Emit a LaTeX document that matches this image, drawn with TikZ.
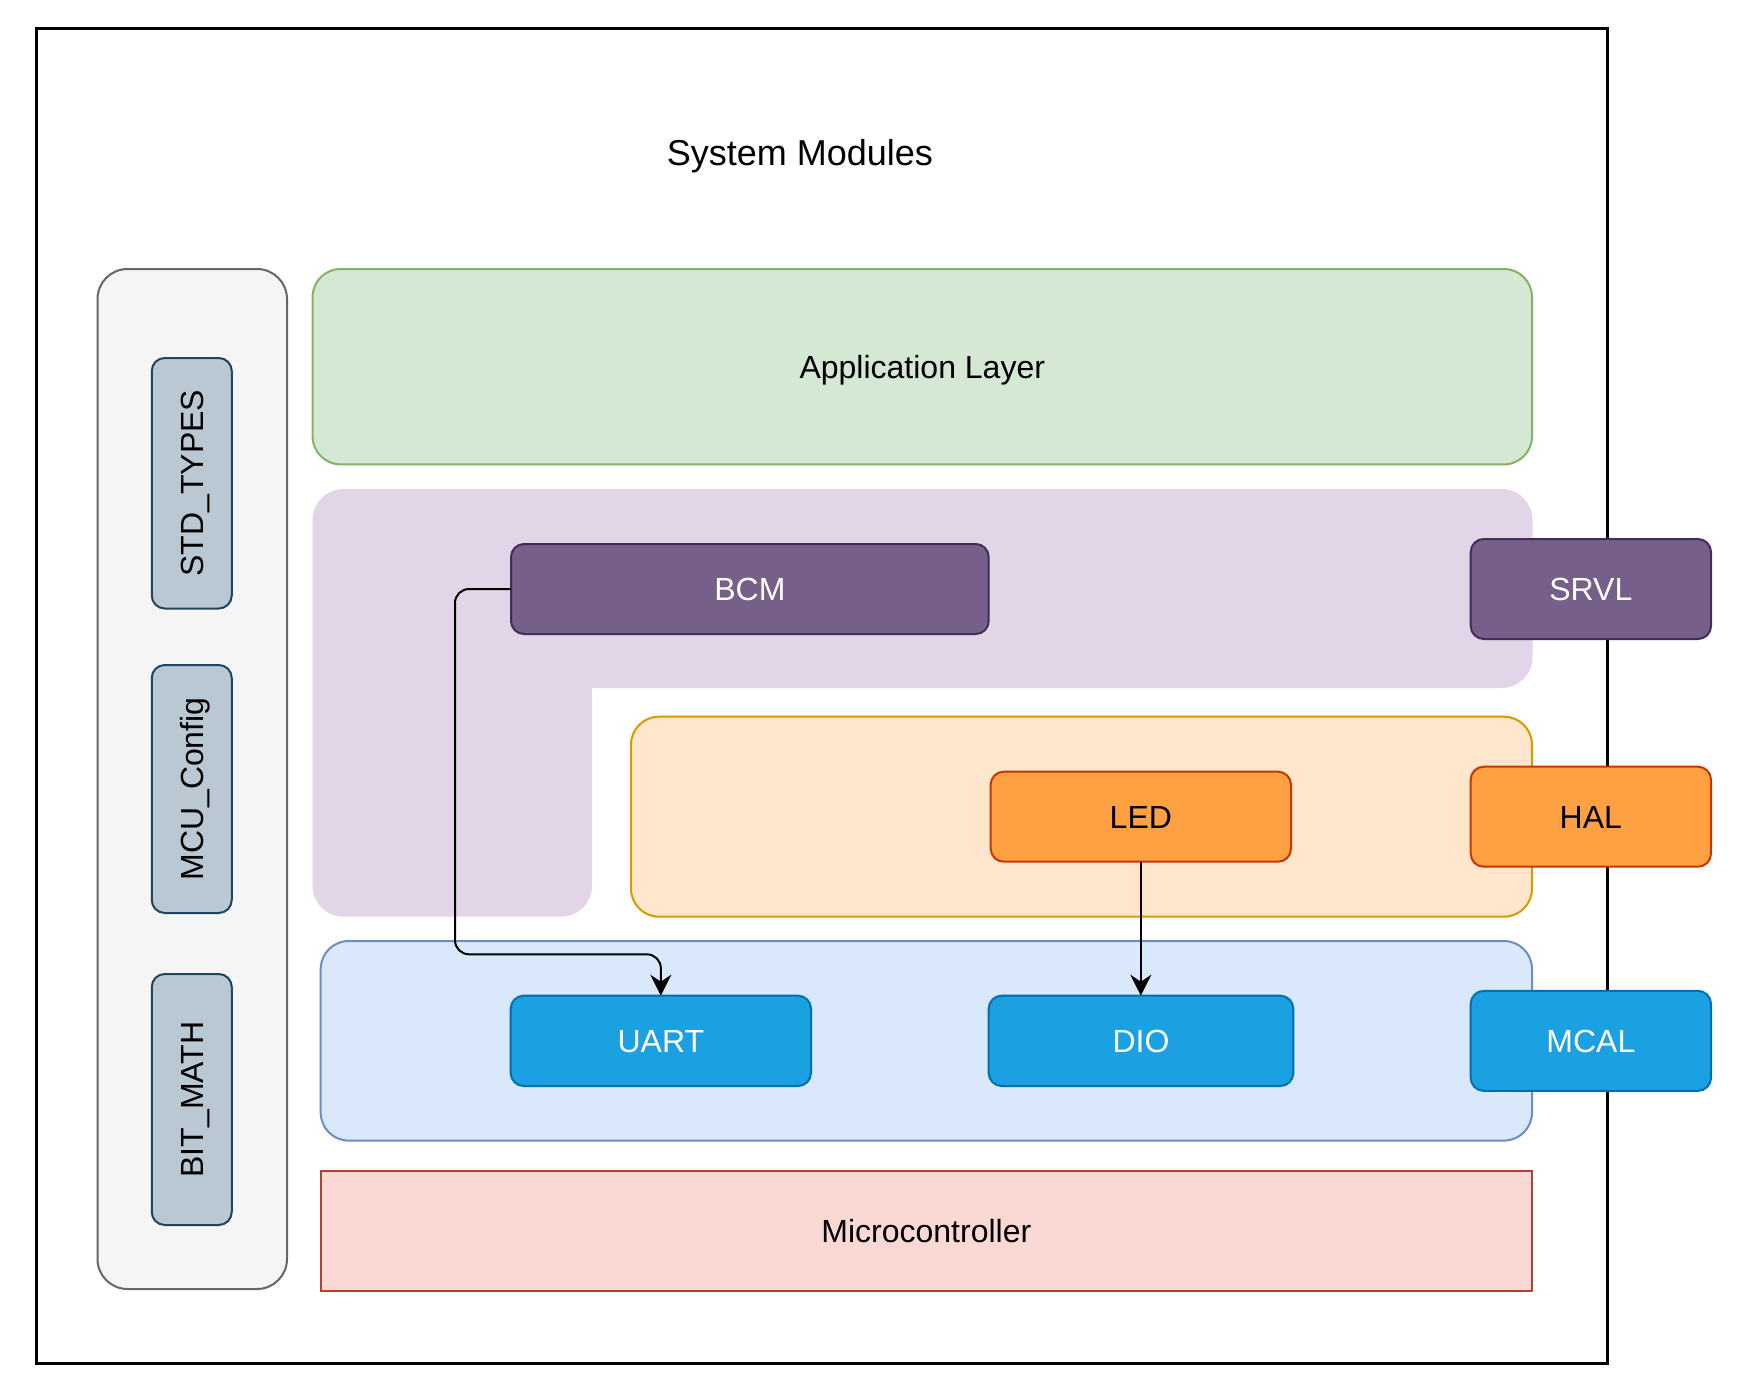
\documentclass[tikz,border=0pt]{standalone}
\usepackage{fontspec}
\setmainfont{Liberation Sans}
\usetikzlibrary{arrows.meta}
\definecolor{grayF}{HTML}{F5F5F5}\definecolor{grayD}{HTML}{666666}
\definecolor{greenF}{HTML}{D5E8D4}\definecolor{greenD}{HTML}{82B366}
\definecolor{purpleL}{HTML}{E1D5E7}
\definecolor{purpF}{HTML}{76608A}\definecolor{purpD}{HTML}{432D57}
\definecolor{orangeF}{HTML}{FFE6CC}\definecolor{orangeD}{HTML}{D79B00}
\definecolor{halF}{HTML}{FFA142}\definecolor{halD}{HTML}{C73500}
\definecolor{blueF}{HTML}{DAE8FC}\definecolor{blueD}{HTML}{6C8EBF}
\definecolor{mcalF}{HTML}{1BA1E2}\definecolor{mcalD}{HTML}{006EAF}
\definecolor{microF}{HTML}{FAD9D5}\definecolor{microD}{HTML}{AE4132}
\definecolor{cfgF}{HTML}{BAC8D3}\definecolor{cfgD}{HTML}{23445D}
\begin{document}
\begin{tikzpicture}[x=1pt,y=-1pt,
  base/.style={draw, line width=2pt, outer sep=0pt, inner sep=0pt,
    font=\fontsize{32}{38}\selectfont, text height=23pt, text depth=0pt},
  layer/.style={base, rounded corners=28pt},
  module/.style={base, rounded corners=13pt},
  purpmod/.style={module, fill=purpF, draw=purpD, text=white},
  halmod/.style={module, fill=halF, draw=halD, text=black},
  mcalmod/.style={module, fill=mcalF, draw=mcalD, text=white},
  cfgmod/.style={module, fill=cfgF, draw=cfgD, rotate=90, minimum height=80pt},
  conn/.style={line width=2pt, -{Stealth[length=21pt,width=21pt,inset=7pt]}, rounded corners=14pt}]
\useasboundingbox (0,0) rectangle (1738,1394);
\fill[white] (0,0) rectangle (1738,1394);

% outer frame and title
\node[draw, line width=3pt, minimum width=1570.4pt, minimum height=1334.2pt, outer sep=0pt] (frame) at (821.8,695.9) {};
\node[font=\fontsize{36}{43}\selectfont, anchor=base, inner sep=0pt] (title) at (800,165) {System Modules};

% left common column
\node[base, rounded corners=30pt, fill=grayF, draw=grayD, minimum width=189.5pt, minimum height=1020pt] (common) at (192.25,779) {};
\node[cfgmod, minimum width=250.5pt] (stdtypes) at (191.75,483.25) {STD\_TYPES};
\node[cfgmod, minimum width=248pt] (mcucfg) at (191.75,789) {MCU\_Config};
\node[cfgmod, minimum width=251pt] (bitmath) at (191.75,1099.5) {BIT\_MATH};

% application layer
\node[layer, fill=greenF, draw=greenD, minimum width=1219.4pt, minimum height=195.4pt] (app) at (922.3,366.7) {Application Layer};

% service layer (L shape), inner corner sharp
\fill[purpleL, rounded corners=31pt] (592,688) -- (1532.5,688) -- (1532.5,489) -- (312.6,489) -- (312.6,916.7) -- (592,916.7) -- (592,688);

% HAL layer
\node[layer, fill=orangeF, draw=orangeD, minimum width=901pt, minimum height=200pt] (halc) at (1081.5,816.7) {};

% MCAL layer
\node[layer, fill=blueF, draw=blueD, minimum width=1211.3pt, minimum height=199.6pt] (mcalc) at (926.35,1040.8) {};

% microcontroller
\node[base, fill=microF, draw=microD, minimum width=1211.3pt, minimum height=120pt] (micro) at (926.35,1231) {Microcontroller};

% modules
\node[purpmod, minimum width=477.7pt, minimum height=90pt] (BCM) at (749.85,589) {BCM};
\node[purpmod, minimum width=240.3pt, minimum height=100pt] (SRVL) at (1590.85,589) {SRVL};
\node[halmod, minimum width=300.3pt, minimum height=90pt] (LED) at (1140.85,816.7) {LED};
\node[halmod, minimum width=240.3pt, minimum height=100pt] (HAL) at (1590.85,816.7) {HAL};
\node[mcalmod, minimum width=300.3pt, minimum height=90.3pt] (UART) at (660.85,1040.85) {UART};
\node[mcalmod, minimum width=304.6pt, minimum height=90.3pt] (DIO) at (1141,1040.85) {DIO};
\node[mcalmod, minimum width=240.3pt, minimum height=100pt] (MCAL) at (1590.85,1040.85) {MCAL};

% connectors
\draw[conn] (BCM.west) -- ++(-56,0) |- ([yshift=41.4pt]UART.north) -- (UART.north);
\draw[conn] (LED.south) -- (LED.south |- DIO.north);
\end{tikzpicture}
\end{document}
